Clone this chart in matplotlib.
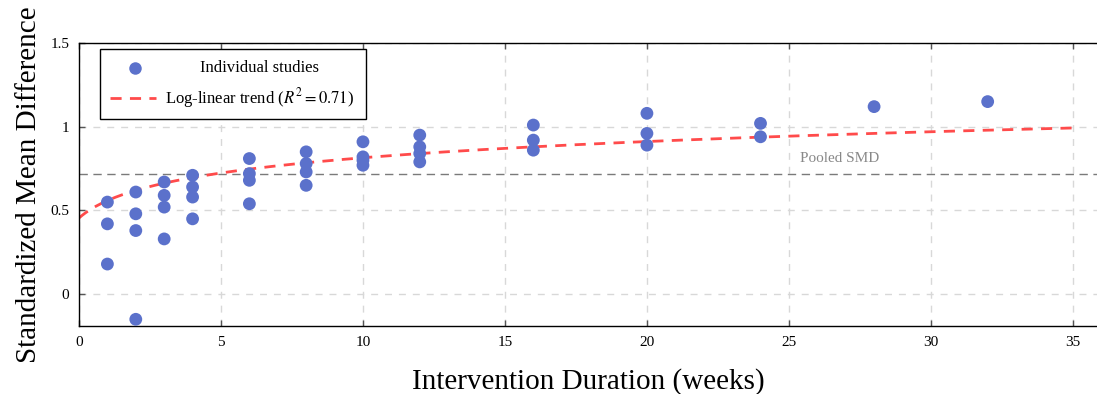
import numpy as np
import matplotlib
matplotlib.use("Agg")
import matplotlib.pyplot as plt
from matplotlib.patches import Rectangle
from matplotlib.lines import Line2D

plt.rcParams['font.family'] = ['Liberation Serif', 'DejaVu Serif']
plt.rcParams['mathtext.fontset'] = 'stix'

# ---- data ----
durations = [1, 1, 1,
             2, 2, 2, 2,
             3, 3, 3, 3,
             4, 4, 4, 4,
             6, 6, 6, 6,
             8, 8, 8, 8,
             10, 10, 10, 10,
             12, 12, 12, 12,
             16, 16, 16,
             20, 20, 20,
             24, 24,
             28,
             32]
smd = [0.55, 0.42, 0.18,
       0.61, 0.48, 0.38, -0.15,
       0.67, 0.59, 0.52, 0.33,
       0.71, 0.64, 0.58, 0.45,
       0.81, 0.72, 0.68, 0.54,
       0.85, 0.78, 0.73, 0.65,
       0.91, 0.82, 0.80, 0.77,
       0.95, 0.88, 0.84, 0.79,
       1.01, 0.92, 0.86,
       1.08, 0.96, 0.89,
       1.02, 0.94,
       1.12,
       1.15]
pooled_smd = 0.72
trend_intercept = 0.455   # log-linear trend: a + b*ln(x+1)
trend_slope = 0.150
trend_r2 = 0.71
x_ticks = [0, 5, 10, 15, 20, 25, 30, 35]
y_ticks = [0, 0.5, 1, 1.5]
y_ticklabels = ['0', '0.5', '1', '1.5']

blue = '#5b71cb'
red = '#ff4b4b'

fig = plt.figure(figsize=(10.97, 3.94), dpi=100)
ax = fig.add_axes([79/1097, 68/394, (1097-79)/1097, (326-43)/394])

ax.set_xlim(0, 35.85)
ax.set_ylim(-0.19, 1.5)

ax.set_xticks(x_ticks)
ax.set_yticks(y_ticks)
ax.set_yticklabels(y_ticklabels)
ax.grid(True, linestyle=(0, (5, 5)), color='#d8d8d8', linewidth=1.0)
ax.set_axisbelow(True)
ax.tick_params(direction='in', top=True, right=False, length=4, width=1,
               color='#555555', labelsize=11, pad=7)
for s in ax.spines.values():
    s.set_linewidth(1.0)
    s.set_color('black')
ax.spines['right'].set_visible(False)

# pooled line
ax.axhline(pooled_smd, color='#7a7a7a', linestyle=(0, (6, 4)), linewidth=1.0, zorder=1)
ax.text(25.4, pooled_smd + 0.088, 'Pooled SMD', color='#888888', fontsize=11,
        ha='left', va='center')

# trend
xt = np.linspace(0, 35, 300)
yt = trend_intercept + trend_slope * np.log(xt + 1)
ax.plot(xt, yt, color=red, linestyle=(0, (4, 3)), linewidth=2.0, zorder=2)

# points
ax.scatter(durations, smd, s=85, color=blue, edgecolors='none', zorder=3)

ax.set_xlabel('Intervention Duration (weeks)', fontsize=21, labelpad=14)
ax.set_ylabel('Standardized Mean Difference', fontsize=21, labelpad=6)

# manual legend (centered text as in reference)
def px(x, y):
    return (x / 1097, 1 - y / 394)

lx0, ly0 = px(100, 119)
lx1, ly1 = px(366, 49)
fig.patches.append(Rectangle((lx0, ly0), lx1 - lx0, ly1 - ly0, transform=fig.transFigure,
                             facecolor='white', edgecolor='black', linewidth=1.0, zorder=5))
mx, my = px(135, 68)
fig.add_artist(Line2D([mx], [my], marker='o', markersize=9, color=blue,
                      markeredgecolor='none', linestyle='none', transform=fig.transFigure, zorder=6))
tx, ty = px(259, 68)
fig.text(tx, ty, 'Individual studies', fontsize=12, ha='center', va='center', zorder=6)
a0, ay = px(110, 98)
a1, _ = px(156, 98)
fig.add_artist(Line2D([a0, a1], [ay, ay], color=red, linestyle=(0, (4, 3)), linewidth=2.0,
                      transform=fig.transFigure, zorder=6))
tx2, ty2 = px(260, 98)
fig.text(tx2, ty2, 'Log-linear trend ($R^2 = %.2f$)' % trend_r2, fontsize=12,
         ha='center', va='center', zorder=6)

fig.savefig('out.png', dpi=100)
